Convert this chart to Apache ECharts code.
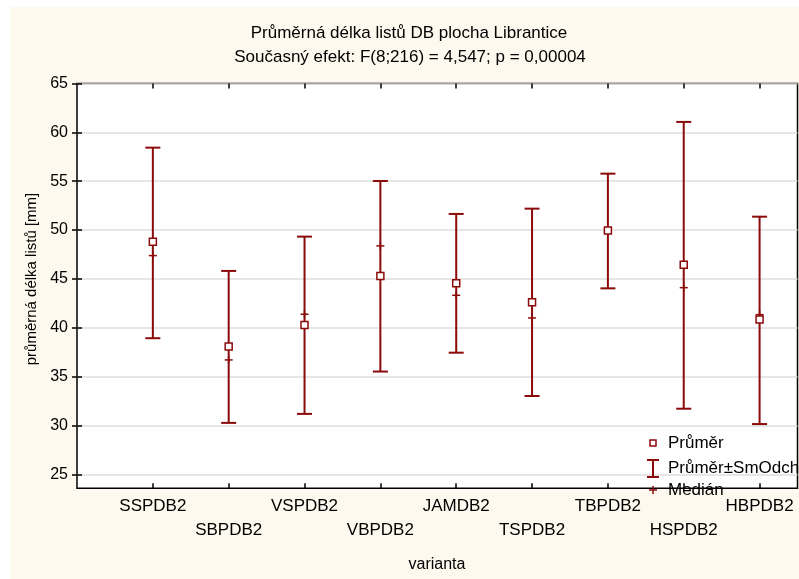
<!DOCTYPE html>
<html>
<head>
<meta charset="utf-8">
<script src="https://cdn.jsdelivr.net/npm/echarts@6/dist/echarts.min.js"></script>
<style>html,body{margin:0;padding:0;background:#fff;}#c{width:799px;height:579px;}</style>
</head>
<body>
<div id="c"></div>
<script>
const categories = ['SSPDB2','SBPDB2','VSPDB2','VBPDB2','JAMDB2','TSPDB2','TBPDB2','HSPDB2','HBPDB2'];
const meanValues = [48.8, 38.1, 40.3, 45.3, 44.57, 42.62, 49.95, 46.45, 40.85];
const medianValues = [47.39, 36.72, 41.39, 48.38, 43.33, 41.01, 49.8, 44.11, 41.35];
const upperValues = [58.43, 45.82, 49.33, 55.02, 51.65, 52.19, 55.77, 61.06, 51.37];
const lowerValues = [38.94, 30.28, 31.2, 35.53, 37.46, 33.03, 44.04, 31.73, 30.16];
const yTicks = [25, 30, 35, 40, 45, 50, 55, 60, 65];
const xPositions = categories.map((c, i) => i + 1);

const RED = '#8b0a0a';
const FONT = '"Liberation Sans", Arial, sans-serif';

const chart = echarts.init(document.getElementById('c'), null, {renderer: 'canvas'});

const option = {
  animation: false,
  backgroundColor: '#fdf9ee',
  textStyle: {fontFamily: FONT, color: '#000'},
  grid: {
    left: 77, right: 1.5, top: 83.4, bottom: 90.7,
    show: true, backgroundColor: '#fff', borderColor: '#000', borderWidth: 1.5
  },
  xAxis: [{
    type: 'value', min: 0, max: 9.5, position: 'bottom',
    axisLine: {show: false},
    splitLine: {show: false},
    axisTick: {show: true, inside: true, length: 5, customValues: xPositions, lineStyle: {color: '#000', width: 1.5}},
    axisLabel: {
      show: true, customValues: xPositions, margin: 6,
      fontFamily: FONT, fontSize: 17, color: '#000', lineHeight: 24,
      formatter: function (v) {
        const i = Math.round(v) - 1;
        if (i < 0 || i >= categories.length) return '';
        return (i % 2 === 1 ? '\n' : '') + categories[i];
      }
    }
  }, {
    type: 'value', min: 0, max: 9.5, position: 'top',
    axisLine: {show: false},
    splitLine: {show: false},
    axisTick: {show: true, inside: true, length: 5, customValues: xPositions, lineStyle: {color: '#000', width: 1.5}},
    axisLabel: {show: false}
  }],
  yAxis: [{
    type: 'value', min: 23.59, max: 65, position: 'left',
    axisLine: {show: false},
    axisTick: {show: true, inside: true, length: 5, customValues: yTicks, lineStyle: {color: '#000', width: 1.5}},
    axisLabel: {show: true, customValues: yTicks, margin: 9, fontFamily: FONT, fontSize: 16, color: '#000'},
    splitLine: {show: true, lineStyle: {color: '#dedede', width: 1.5}}
  }, {
    type: 'value', min: 23.59, max: 65, position: 'right',
    axisLine: {show: false},
    axisTick: {show: true, inside: true, length: 5, customValues: yTicks, lineStyle: {color: '#000', width: 1.5}},
    axisLabel: {show: false},
    splitLine: {show: false}
  }],
  graphic: [
    {type: 'rect', shape: {x: 0, y: 0, width: 799, height: 7}, style: {fill: '#fff'}, silent: true},
    {type: 'rect', shape: {x: 0, y: 0, width: 10, height: 579}, style: {fill: '#fff'}, silent: true},
    {type: 'text', x: 409, y: 33, style: {text: 'Průměrná délka listů DB plocha Librantice', font: '17px ' + FONT, fill: '#000', textAlign: 'center', textVerticalAlign: 'middle'}},
    {type: 'text', x: 410, y: 57, style: {text: 'Současný efekt: F(8;216) = 4,547; p = 0,00004', font: '17px ' + FONT, fill: '#000', textAlign: 'center', textVerticalAlign: 'middle'}},
    {type: 'text', x: 31.7, y: 279, rotation: Math.PI / 2, style: {text: 'průměrná délka listů [mm]', font: '15px ' + FONT, fill: '#000', textAlign: 'center', textVerticalAlign: 'middle'}},
    {type: 'text', x: 437, y: 565, style: {text: 'varianta', font: '16px ' + FONT, fill: '#000', textAlign: 'center', textVerticalAlign: 'middle'}},
    // legend
    {type: 'rect', z: 50, shape: {x: 650, y: 440, width: 6, height: 6}, style: {fill: '#fff', stroke: RED, lineWidth: 1.5}},
    {type: 'text', z: 50, x: 668, y: 443, style: {text: 'Průměr', font: '17px ' + FONT, fill: '#000', textAlign: 'left', textVerticalAlign: 'middle'}},
    {type: 'polyline', z: 50, shape: {points: [[653, 460], [653, 477]]}, style: {stroke: RED, lineWidth: 2}},
    {type: 'polyline', z: 50, shape: {points: [[647, 460], [659, 460]]}, style: {stroke: RED, lineWidth: 2}},
    {type: 'polyline', z: 50, shape: {points: [[647, 477], [659, 477]]}, style: {stroke: RED, lineWidth: 2}},
    {type: 'text', z: 50, x: 668, y: 468, style: {text: 'Průměr±SmOdch', font: '17px ' + FONT, fill: '#000', textAlign: 'left', textVerticalAlign: 'middle'}},
    {type: 'polyline', z: 50, shape: {points: [[649, 490], [657, 490]]}, style: {stroke: RED, lineWidth: 1.5}},
    {type: 'polyline', z: 50, shape: {points: [[653, 486], [653, 494]]}, style: {stroke: RED, lineWidth: 1.5}},
    {type: 'text', z: 50, x: 668, y: 490, style: {text: 'Medián', font: '17px ' + FONT, fill: '#000', textAlign: 'left', textVerticalAlign: 'middle'}}
  ],
  series: [{
    type: 'custom',
    name: 'Průměr±SmOdch',
    xAxisIndex: 0, yAxisIndex: 0,
    data: xPositions.map((x, i) => [x, lowerValues[i], upperValues[i]]),
    encode: {x: 0, y: [1, 2]},
    renderItem: function (params, api) {
      const x = api.value(0);
      const lo = api.coord([x, api.value(1)]);
      const hi = api.coord([x, api.value(2)]);
      const w = 7.5;
      const st = {stroke: RED, lineWidth: 2, fill: null};
      return {type: 'group', children: [
        {type: 'line', shape: {x1: lo[0], y1: lo[1], x2: hi[0], y2: hi[1]}, style: st},
        {type: 'line', shape: {x1: hi[0] - w, y1: hi[1], x2: hi[0] + w, y2: hi[1]}, style: st},
        {type: 'line', shape: {x1: lo[0] - w, y1: lo[1], x2: lo[0] + w, y2: lo[1]}, style: st}
      ]};
    },
    z: 2
  }, {
    type: 'custom',
    name: 'Medián',
    xAxisIndex: 0, yAxisIndex: 0,
    data: xPositions.map((x, i) => [x, medianValues[i]]),
    encode: {x: 0, y: 1},
    renderItem: function (params, api) {
      const p = api.coord([api.value(0), api.value(1)]);
      const st = {stroke: RED, lineWidth: 1.5, fill: null};
      return {type: 'group', children: [
        {type: 'line', shape: {x1: p[0] - 4, y1: p[1], x2: p[0] + 4, y2: p[1]}, style: st},
        {type: 'line', shape: {x1: p[0], y1: p[1] - 4, x2: p[0], y2: p[1] + 4}, style: st}
      ]};
    },
    z: 3
  }, {
    type: 'scatter',
    name: 'Průměr',
    xAxisIndex: 0, yAxisIndex: 0,
    data: xPositions.map((x, i) => [x, meanValues[i]]),
    symbol: 'rect', symbolSize: 7,
    itemStyle: {color: '#fff', borderColor: RED, borderWidth: 1.5, opacity: 1},
    z: 4
  }]
};
chart.setOption(option);
</script>
</body>
</html>
